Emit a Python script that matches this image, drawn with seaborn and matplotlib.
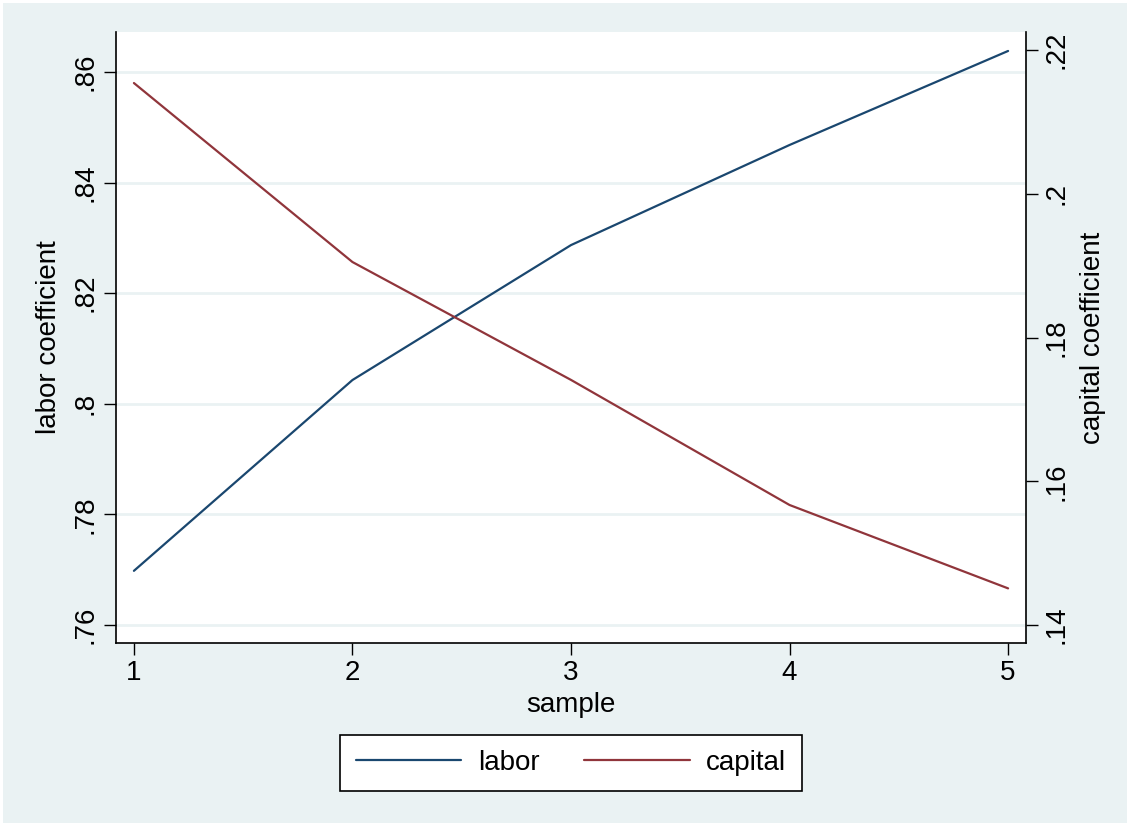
import pandas as pd
import numpy as np
import matplotlib.pyplot as plt
import seaborn as sns
from matplotlib.patches import Rectangle

# values
sample = [1, 2, 3, 4, 5]
labor = [0.7698, 0.8043, 0.8287, 0.8468, 0.8638]
capital = [0.2154, 0.1905, 0.1741, 0.1567, 0.1451]
left_ticks = [0.76, 0.78, 0.80, 0.82, 0.84, 0.86]
left_labels = ['.76', '.78', '.8', '.82', '.84', '.86']
right_ticks = [0.14, 0.16, 0.18, 0.20, 0.22]
right_labels = ['.14', '.16', '.18', '.2', '.22']

df = pd.DataFrame({'sample': sample, 'labor': labor, 'capital': capital})

bg = '#eaf2f3'
c_labor = '#1a476f'
c_capital = '#90353b'

sns.set_style('white')
plt.rcParams['font.family'] = ['Liberation Sans', 'DejaVu Sans']
plt.rcParams['font.size'] = 20
plt.rcParams['text.color'] = 'black'
plt.rcParams['axes.labelcolor'] = 'black'
plt.rcParams['xtick.color'] = 'black'
plt.rcParams['ytick.color'] = 'black'

fig = plt.figure(figsize=(11.3, 8.26), dpi=100)
fig.patch.set_facecolor('white')
fig.patches.append(Rectangle((3 / 1130, 3 / 826), 1124 / 1130, 820 / 826,
                             transform=fig.transFigure, facecolor=bg,
                             edgecolor='none', zorder=-10))

ax = fig.add_axes([116 / 1130, 1 - 643 / 826, 910 / 1130, 611 / 826])
ax.set_facecolor('white')
ax2 = ax.twinx()

sns.lineplot(data=df, x='sample', y='labor', ax=ax, color=c_labor,
             linewidth=1.6, label='labor', legend=False)
sns.lineplot(data=df, x='sample', y='capital', ax=ax2, color=c_capital,
             linewidth=1.6, label='capital', legend=False)

ax.set_xlim(0.918, 5.082)
ax.set_ylim(0.75675, 0.86723)
ax2.set_ylim(0.1375, 0.2225)

ax.set_xticks(sample)
ax.set_xticklabels([str(s) for s in sample])
ax.set_yticks(left_ticks)
ax.set_yticklabels(left_labels, rotation=90, va='center')
ax2.set_yticks(right_ticks)
ax2.set_yticklabels(right_labels, rotation=90, va='center')

ax.yaxis.grid(True, color=bg, linewidth=2)
ax.set_axisbelow(True)

for a in (ax, ax2):
    for s in a.spines.values():
        s.set_visible(False)
    a.tick_params(length=8.5, width=1, color='black', labelcolor='black',
                  labelsize=20, pad=4)
ax.spines['left'].set_visible(True)
ax.spines['bottom'].set_visible(True)
ax2.spines['right'].set_visible(True)
for s in (ax.spines['left'], ax.spines['bottom'], ax2.spines['right']):
    s.set_color('black')
    s.set_linewidth(1.2)
ax.tick_params(axis='y', left=True, right=False)
ax.tick_params(axis='x', bottom=True)
ax2.tick_params(axis='y', right=True, left=False)

ax.set_xlabel('sample', fontsize=20, labelpad=4, color='black')
ax.set_ylabel('labor coefficient', fontsize=20, labelpad=8, color='black')
ax2.set_ylabel('capital coefficient', fontsize=20, labelpad=8, color='black')

h1, lab1 = ax.get_legend_handles_labels()
h2, lab2 = ax2.get_legend_handles_labels()
leg = fig.legend(h1 + h2, lab1 + lab2, loc='center',
                 bbox_to_anchor=(571 / 1130, 1 - 763 / 826), ncol=2,
                 frameon=True, fancybox=False, framealpha=1, fontsize=20,
                 handlelength=3.8, handletextpad=0.6, columnspacing=1.6,
                 borderpad=0.55, borderaxespad=0)
leg.get_frame().set_edgecolor('black')
leg.get_frame().set_facecolor('white')
leg.get_frame().set_linewidth(1.2)
for t in leg.get_texts():
    t.set_color('black')

fig.savefig('out.png', dpi=100, facecolor=fig.get_facecolor())
